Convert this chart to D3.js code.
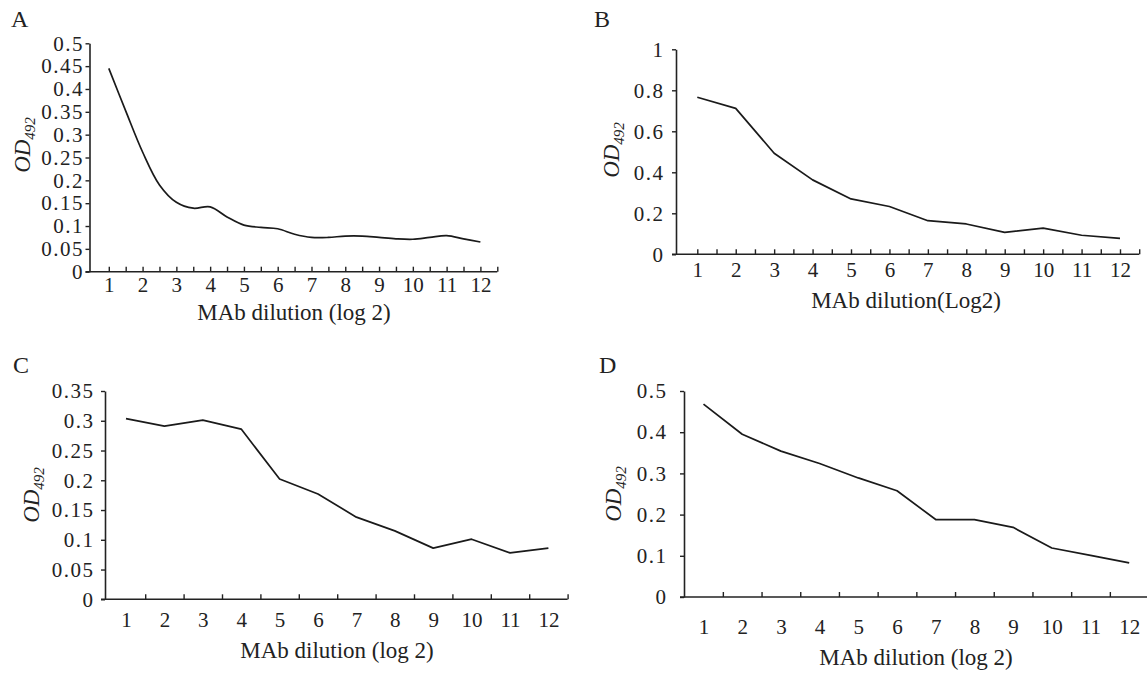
<!DOCTYPE html>
<html>
<head>
<meta charset="utf-8">
<script src="https://cdn.jsdelivr.net/npm/d3@7/dist/d3.min.js"></script>
<style>
  html, body { margin: 0; padding: 0; background: #fff; }
  svg { display: block; }
  text { font-family: "Liberation Serif", "Times New Roman", serif; fill: #222; }
</style>
</head>
<body>
<svg id="chart" width="1147" height="674"></svg>
<script>
// ---------------- data ----------------
const dilutions = [1, 2, 3, 4, 5, 6, 7, 8, 9, 10, 11, 12];
const xTickLabels = ["1", "2", "3", "4", "5", "6", "7", "8", "9", "10", "11", "12"];

// Panel A (smoothed curve, read at half steps)
const aDilution = [1, 1.5, 2, 2.5, 3, 3.5, 4, 4.5, 5, 5.5, 6, 6.5, 7, 7.5, 8, 8.5, 9, 9.5, 10, 10.5, 11, 11.5, 12];
const aOD = [0.445, 0.352, 0.262, 0.19, 0.152, 0.139, 0.142, 0.12, 0.102, 0.097, 0.094, 0.082, 0.075, 0.075, 0.078, 0.078, 0.075, 0.072, 0.071, 0.075, 0.079, 0.072, 0.065];
const aYTicks = [0, 0.05, 0.1, 0.15, 0.2, 0.25, 0.3, 0.35, 0.4, 0.45, 0.5];

// Panel B
const bOD = [0.766, 0.712, 0.493, 0.363, 0.27, 0.233, 0.164, 0.148, 0.107, 0.128, 0.093, 0.078];
const bYTicks = [0, 0.2, 0.4, 0.6, 0.8, 1];

// Panel C
const cOD = [0.3035, 0.291, 0.301, 0.286, 0.202, 0.177, 0.138, 0.115, 0.086, 0.101, 0.078, 0.086];
const cYTicks = [0, 0.05, 0.1, 0.15, 0.2, 0.25, 0.3, 0.35];

// Panel D
const dOD = [0.468, 0.395, 0.354, 0.324, 0.289, 0.258, 0.188, 0.188, 0.169, 0.119, 0.101, 0.083];
const dYTicks = [0, 0.1, 0.2, 0.3, 0.4, 0.5];

const panelLetters = ["A", "B", "C", "D"];
const xTitles = ["MAb dilution (log 2)", "MAb dilution(Log2)", "MAb dilution (log 2)", "MAb dilution (log 2)"];

// ---------------- layout ----------------
const panels = [
  { letter: panelLetters[0], xs: aDilution, ys: aOD, yTicks: aYTicks, yMax: 0.5, smooth: true,
    xRange: [108.8, 480.4], yRange: [271.7, 43.3], yAxisX: 89.5, xEnd: 12.5,
    halfTicks: true, letterPos: [11, 27], yLabelGap: 5.5, xLabelY: 292, titleY: 320, titleX: 294,
    odX: 30, odY: 145, xTitle: xTitles[0] },
  { letter: panelLetters[1], xs: dilutions, ys: bOD, yTicks: bYTicks, yMax: 1, smooth: false,
    xRange: [697.3, 1120], yRange: [254.3, 49.3], yAxisX: 676, xEnd: 12.5,
    halfTicks: true, letterPos: [594, 27], yLabelGap: 11.5, xLabelY: 277, titleY: 308, titleX: 906,
    odX: 619, odY: 150, xTitle: xTitles[1] },
  { letter: panelLetters[2], xs: dilutions, ys: cOD, yTicks: cYTicks, yMax: 0.35, smooth: false,
    xRange: [126, 548.4], yRange: [599.3, 391], yAxisX: 105, xEnd: 12.5,
    halfTicks: false, letterPos: [13, 373], yLabelGap: 10.5, xLabelY: 627, titleY: 658, titleX: 337,
    odX: 39, odY: 495, xTitle: xTitles[2] },
  { letter: panelLetters[3], xs: dilutions, ys: dOD, yTicks: dYTicks, yMax: 0.5, smooth: false,
    xRange: [703.5, 1129.2], yRange: [597, 391], yAxisX: 684, xEnd: 12.5,
    halfTicks: false, letterPos: [599, 373], yLabelGap: 16.5, xLabelY: 634, titleY: 665, titleX: 916,
    odX: 621, odY: 494, xTitle: xTitles[3] }
];

const svg = d3.select("#chart");
const ink = "#222";
const serif = '"Liberation Serif", "Times New Roman", serif';

panels.forEach(p => {
  const x = d3.scaleLinear().domain([1, 12]).range(p.xRange);
  const y = d3.scaleLinear().domain([0, p.yMax]).range(p.yRange);
  const g = svg.append("g");

  // panel letter
  g.append("text").attr("x", p.letterPos[0]).attr("y", p.letterPos[1])
    .attr("font-size", 24).text(p.letter);

  // y axis
  const yAxis = d3.axisLeft(y).tickValues(p.yTicks).tickFormat(d => String(d))
    .tickSizeInner(4).tickSizeOuter(0).tickPadding(p.yLabelGap - 4);
  const yg = g.append("g").attr("transform", `translate(${p.yAxisX},0)`).call(yAxis);
  yg.select(".domain").attr("stroke", ink).attr("stroke-width", 1.6);
  yg.selectAll(".tick line").attr("stroke", ink).attr("stroke-width", 1.4);
  yg.selectAll(".tick text").attr("font-size", 21).attr("fill", ink)
    .attr("letter-spacing", 1.5).attr("font-family", serif);

  // x axis line
  g.append("line").attr("x1", p.yAxisX - 4).attr("x2", x(p.xEnd))
    .attr("y1", y(0)).attr("y2", y(0)).attr("stroke", ink).attr("stroke-width", 1.6);

  // x tick marks (pointing up)
  const tickVals = p.halfTicks ? d3.range(1, 12.51, 0.5) : d3.range(1.5, 12.51, 1);
  const xTicks = d3.axisBottom(x).tickValues(tickVals).tickFormat("")
    .tickSizeInner(-5).tickSizeOuter(0);
  const xt = g.append("g").attr("transform", `translate(0,${y(0)})`).call(xTicks);
  xt.select(".domain").remove();
  xt.selectAll(".tick line").attr("stroke", ink).attr("stroke-width", 1.4);

  // x tick labels
  const xLabels = d3.axisBottom(x).tickValues(dilutions).tickFormat((d, i) => xTickLabels[i])
    .tickSize(0).tickPadding(0);
  const xl = g.append("g").attr("transform", `translate(0,${p.xLabelY})`).call(xLabels);
  xl.select(".domain").remove();
  xl.selectAll(".tick text").attr("font-size", 21).attr("fill", ink).attr("dy", 0)
    .attr("font-family", serif);

  // x title
  g.append("text").attr("x", p.titleX).attr("y", p.titleY)
    .attr("text-anchor", "middle").attr("font-size", 23).text(p.xTitle);

  // y title OD492
  const od = g.append("text")
    .attr("transform", `translate(${p.odX},${p.odY}) rotate(-90)`)
    .attr("text-anchor", "middle").attr("font-size", 23).attr("font-style", "italic");
  od.append("tspan").text("OD");
  od.append("tspan").attr("font-size", 15).attr("dy", 5).text("492");

  // data line
  const line = d3.line()
    .x((d, i) => x(p.xs[i]))
    .y(d => y(d))
    .curve(p.smooth ? d3.curveCatmullRom.alpha(0.5) : d3.curveLinear);
  g.append("path").datum(p.ys).attr("d", line)
    .attr("fill", "none").attr("stroke", "#1a1a1a").attr("stroke-width", 1.7)
    .attr("stroke-linejoin", "round");
});
</script>
</body>
</html>
